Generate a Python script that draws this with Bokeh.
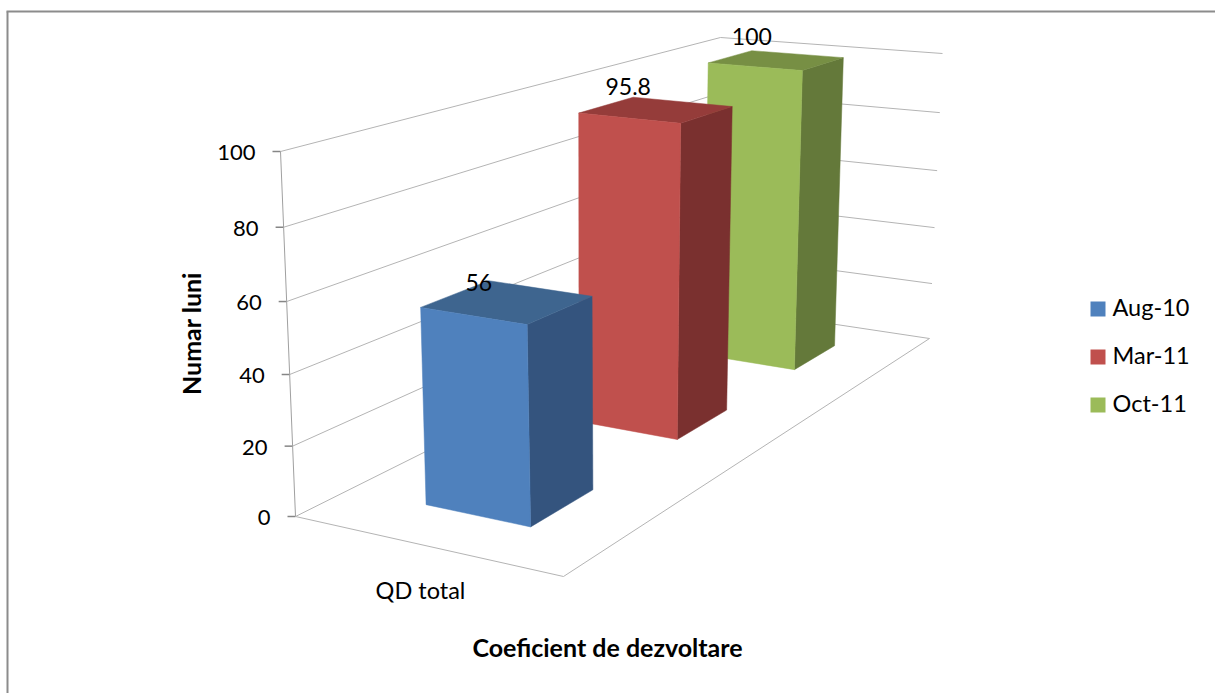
import numpy as np
from bokeh.plotting import figure
from bokeh.models import Range1d
from bokeh.core.properties import value
from bokeh.embed import file_html
from bokeh.resources import INLINE

# ---- data ----
category = "QD total"
series_names = ["Aug-10", "Mar-11", "Oct-11"]
series_values = [56, 95.8, 100]
value_labels = ["56", "95.8", "100"]
value_ticks = [0, 20, 40, 60, 80, 100]
x_title = "Coeficient de dezvoltare"
y_title = "Numar luni"

# ---- styles ----
front_colors = ["#4F81BD", "#C0504D", "#9BBB59"]
top_colors = ["#3E658F", "#953C3A", "#778F44"]
side_colors = ["#34547E", "#7A302F", "#64793A"]
grid_color = "#B4B4B4"
tick_color = "#868686"
FONT = value("Lato")

# ---- layout: 3D box model (unit floor, value height) ----
SQ = [(0, 0), (1, 0), (1, 1), (0, 1)]
FLOOR = [(295, 516), (563, 576), (929, 338), (716, 306)]
CEIL = [(280, 151), (557, 187), (942, 53), (720, 37)]
VMAX = 100
PERSPECTIVE = 1.047
BAR_U0 = [0.30, 0.293, 0.296]
BAR_U1 = 0.70
BAR_W0 = 0.10
BAR_STEP = 1 / 3
BAR_DEPTH = 0.132
LABEL_OFF = [(-10, 2), (-5, -11), (0, -14)]


def homography(src, dst):
    A, b = [], []
    for (u, w), (x, y) in zip(src, dst):
        A.append([u, w, 1, 0, 0, 0, -u * x, -w * x])
        b.append(x)
        A.append([0, 0, 0, u, w, 1, -u * y, -w * y])
        b.append(y)
    return np.append(np.linalg.solve(np.array(A, float), np.array(b, float)), 1).reshape(3, 3)


HF, HC = homography(SQ, FLOOR), homography(SQ, CEIL)


def apply(M, u, w):
    q = M @ np.array([u, w, 1.0])
    return q[:2] / q[2]


def proj(u, w, v):
    f, c = apply(HF, u, w), apply(HC, u, w)
    t = v / VMAX
    s = t / (PERSPECTIVE + (1 - PERSPECTIVE) * t)
    return tuple(f + (c - f) * s)


def seg(*pts):
    return [q[0] for q in pts], [q[1] for q in pts]


p = figure(width=1215, height=693, x_range=Range1d(0, 1215), y_range=Range1d(693, 0),
           output_backend="svg", toolbar_location=None, min_border=0,
           x_axis_location=None, y_axis_location=None)
p.grid.visible = False
p.outline_line_color = None
p.background_fill_color = "white"
p.border_fill_color = "white"

# chart frame
p.line([7, 7], [693, 11], line_color="#8C8C8C", line_width=2)
p.line([6, 1215], [11, 11], line_color="#8C8C8C", line_width=2)

# walls and floor
for t in value_ticks:
    p.line(*seg(proj(0, 0, t), proj(0, 1, t), proj(1, 1, t)), line_color=grid_color, line_width=1)
    a = proj(0, 0, t)
    p.line([a[0] - 8, a[0]], [a[1], a[1]], line_color=tick_color, line_width=1.5)
    p.text([a[0] - 25], [a[1] + 1], text=[str(t)], text_font=FONT, text_font_size="22px",
           text_align="right", text_baseline="middle", text_color="black")
p.line(*seg(proj(0, 0, 0), proj(0, 0, VMAX)), line_color="#A0A0A0", line_width=1)
p.line(*seg(proj(0, 0, 0), proj(1, 0, 0), proj(1, 1, 0)), line_color=grid_color, line_width=1)

# bars, back to front
labels = []
for i in reversed(range(len(series_values))):
    v = series_values[i]
    u0, u1 = BAR_U0[i], BAR_U1
    w0 = BAR_W0 + i * BAR_STEP
    w1 = w0 + BAR_DEPTH
    for pts, col in (
        ([proj(u1, w0, 0), proj(u1, w1, 0), proj(u1, w1, v), proj(u1, w0, v)], side_colors[i]),
        ([proj(u0, w0, v), proj(u1, w0, v), proj(u1, w1, v), proj(u0, w1, v)], top_colors[i]),
        ([proj(u0, w0, 0), proj(u1, w0, 0), proj(u1, w0, v), proj(u0, w0, v)], front_colors[i]),
    ):
        xs, ys = seg(*pts)
        p.patch(xs, ys, fill_color=col, line_color=col, line_width=0.5)
    a = proj(u0, w1, v)
    labels.append((a[0] + LABEL_OFF[i][0], a[1] + LABEL_OFF[i][1], value_labels[i]))

for x, y, s in labels:
    p.text([x], [y], text=[s], text_font=FONT, text_font_size="23px", text_align="center",
           text_baseline="middle", text_color="black")

# category and axis titles
p.text([420], [589], text=[category], text_font=FONT, text_font_size="23.5px",
       text_align="center", text_baseline="middle", text_color="black")
p.text([607], [646], text=[x_title], text_font=FONT, text_font_size="25px", text_font_style="bold",
       text_align="center", text_baseline="middle", text_color="black")
p.text([190], [333], text=[y_title], text_font=FONT, text_font_size="25px", text_font_style="bold",
       angle=np.pi / 2, text_align="center", text_baseline="middle", text_color="black")

# legend
for i, name in enumerate(series_names):
    yc = 308.5 + i * 48
    p.rect([1097.5], [yc], width=15, height=15, fill_color=front_colors[i], line_color=None)
    p.text([1112], [yc - 2], text=[name], text_font=FONT, text_font_size="23.5px",
           text_align="left", text_baseline="middle", text_color="black")

open("out.html", "w").write(file_html(p, INLINE))
